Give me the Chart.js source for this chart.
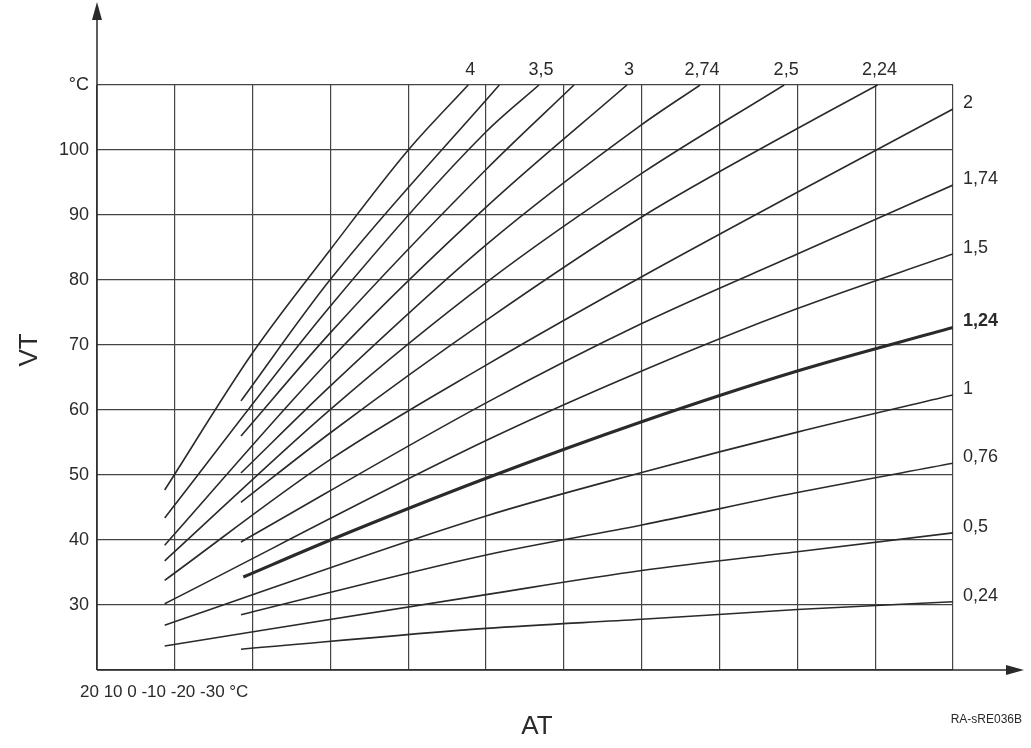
<!DOCTYPE html>
<html>
<head>
<meta charset="utf-8">
<script src="https://cdn.jsdelivr.net/npm/chart.js@4"></script>
<style>
  html, body { margin: 0; padding: 0; background: #fff; }
  #wrap { width: 1031px; height: 748px; }
</style>
</head>
<body>
<div id="wrap"><canvas id="curves"></canvas></div>
<script>
/* heating curves: x = grid column (0..11), y = flow temperature VT */

const yTicks = [20, 30, 40, 50, 60, 70, 80, 90, 100, 110];
const atLabels = '20 10 0 -10 -20 -30 °C';

const k400 = [[0.87, 47.7], [2, 68.8], [3, 84.7], [4, 100], [4.77, 110]];
const k375 = [[1.85, 61.4], [3, 80.1], [5.17, 110]];
const k350 = [[0.87, 43.4], [3, 76], [5, 102.8], [5.68, 110]];
const k325 = [[1.85, 56.0], [3, 71.9], [5, 97], [6.13, 110]];
const k300 = [[0.87, 39.2], [3, 67.8], [5, 91.2], [6.81, 110]];
const k274 = [[1.85, 50.3], [3, 63.7], [5, 85.4], [7, 103.9], [7.75, 110]];
const k250 = [[0.87, 36.8], [3, 60.1], [5, 79.6], [7, 96.4], [8.83, 110]];
const k224 = [[1.85, 45.8], [3, 56.5], [5, 73.8], [7, 89.7], [9, 103.3], [10.03, 110]];
const k200 = [[0.87, 33.8], [3, 52.4], [5, 66.9], [7, 80.5], [9, 93.5], [11, 106.3]];
const k174 = [[1.85, 39.7], [5, 61.1], [7, 73.3], [9, 84.0], [11, 94.6]];
const k150 = [[0.87, 30.2], [5, 55.3], [7, 66.0], [9, 75.6], [11, 84.0]];
const k124 = [[1.88, 34.3], [3, 40.0], [5, 49.5], [7, 58.2], [9, 66.0], [11, 72.7]];
const k100 = [[0.87, 26.9], [5, 43.7], [7, 50.4], [9, 56.6], [11, 62.3]];
const k076 = [[1.85, 28.5], [5, 37.7], [7, 42.3], [9, 47.3], [11, 51.8]];
const k050 = [[0.87, 23.7], [5, 31.6], [7, 35.3], [9, 38.2], [11, 41.1]];
const k024 = [[1.85, 23.2], [5, 26.4], [7, 27.8], [9, 29.3], [11, 30.5]];

const curveSets = [k400, k375, k350, k325, k300, k274, k250, k224,
                   k200, k174, k150, k124, k100, k076, k050, k024];
const curveNames = ['4', '3,75', '3,5', '3,25', '3', '2,74', '2,5', '2,24',
                    '2', '1,74', '1,5', '1,24', '1', '0,76', '0,5', '0,24'];
const topLabels = ['4', '3,5', '3', '2,74', '2,5', '2,24'];
const rightLabels = ['2', '1,74', '1,5', '1,24', '1', '0,76', '0,5', '0,24'];

const FONT = "'Liberation Sans', Arial, sans-serif";
const INK = '#2a2a2a';

const extras = {
  id: 'extras',
  afterDraw(chart) {
    const { ctx, chartArea: a, scales: { x, y } } = chart;
    ctx.save();
    ctx.fillStyle = INK;
    ctx.strokeStyle = INK;

    /* axis arrows */
    ctx.lineWidth = 1.5;
    ctx.beginPath();
    ctx.moveTo(a.left, a.bottom); ctx.lineTo(a.left, 12);
    ctx.moveTo(a.left, a.bottom); ctx.lineTo(1012, a.bottom);
    ctx.stroke();
    ctx.beginPath();
    ctx.moveTo(a.left, 2); ctx.lineTo(a.left - 5, 20); ctx.lineTo(a.left + 5, 20); ctx.closePath();
    ctx.moveTo(1024, a.bottom); ctx.lineTo(1006, a.bottom - 5); ctx.lineTo(1006, a.bottom + 5); ctx.closePath();
    ctx.fill();

    /* curve labels */
    ctx.font = '18px ' + FONT;
    ctx.textBaseline = 'middle';
    ctx.textAlign = 'center';
    topLabels.forEach(t => {
      const set = curveSets[curveNames.indexOf(t)];
      const px = x.getPixelForValue(set[set.length - 1][0]);
      ctx.fillText(t, px + 2, a.top - 15);
    });
    ctx.textAlign = 'left';
    rightLabels.forEach(t => {
      const set = curveSets[curveNames.indexOf(t)];
      const py = y.getPixelForValue(set[set.length - 1][1]);
      ctx.font = (t === '1,24' ? 'bold ' : '') + '18px ' + FONT;
      ctx.fillText(t, a.right + 10, py - 6);
    });

    /* axis texts */
    ctx.font = '17px ' + FONT;
    ctx.textAlign = 'left';
    ctx.fillText(atLabels, 80, a.bottom + 22);
    ctx.font = '26px ' + FONT;
    ctx.textAlign = 'center';
    ctx.fillText('AT', 537, 727);
    ctx.save();
    ctx.translate(30, 350);
    ctx.rotate(-Math.PI / 2);
    ctx.fillText('VT', 0, 0);
    ctx.restore();
    ctx.font = '12px ' + FONT;
    ctx.textAlign = 'right';
    ctx.fillText('RA-sRE036B', 1022, 720);
    ctx.restore();
  }
};

new Chart(document.getElementById('curves'), {
  type: 'line',
  data: {
    datasets: curveSets.map((set, i) => ({
      label: curveNames[i],
      data: set.map(p => ({ x: p[0], y: p[1] })),
      borderColor: INK,
      borderWidth: curveNames[i] === '1,24' ? 3.2 : 1.6,
      pointRadius: 0,
      cubicInterpolationMode: 'monotone',
      fill: false,
    }))
  },
  options: {
    responsive: true,
    maintainAspectRatio: false,
    animation: false,
    layout: { padding: { top: 85, right: 78, left: 0, bottom: 0 } },
    plugins: { legend: { display: false }, tooltip: { enabled: false } },
    scales: {
      x: {
        type: 'linear', min: 0, max: 11,
        ticks: { stepSize: 1, display: false },
        grid: { color: '#444', lineWidth: 1.2, drawTicks: false },
        border: { display: false },
        afterFit: s => { s.height = 78; },
      },
      y: {
        min: 20, max: 110,
        afterBuildTicks: s => { s.ticks = yTicks.map(v => ({ value: v })); },
        ticks: {
          color: INK,
          font: { size: 18, family: FONT },
          padding: 8,
          callback: v => v === 110 ? '°C' : (v === 20 ? '' : v),
        },
        grid: { color: '#444', lineWidth: 1.2, drawTicks: false },
        border: { display: false },
        afterFit: s => { s.width = 97; },
      }
    }
  },
  plugins: [extras]
});
</script>
</body>
</html>
